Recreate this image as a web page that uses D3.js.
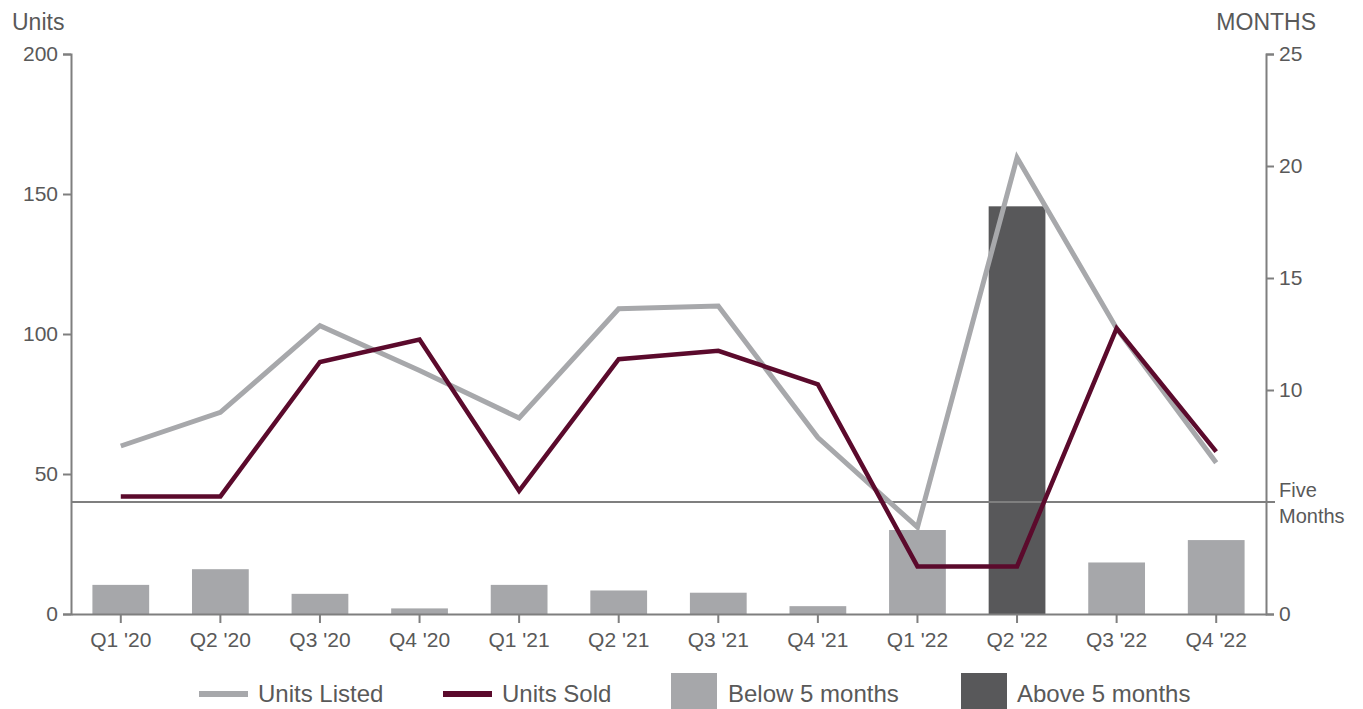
<!DOCTYPE html>
<html>
<head>
<meta charset="utf-8">
<script src="https://cdn.jsdelivr.net/npm/d3@7"></script>
<style>
  body { margin: 0; background: #fff; }
  svg { display: block; font-family: "Liberation Sans", Arial, sans-serif; }
  .axis path, .axis line { stroke: #7f7f7f; stroke-width: 2px; }
  .axis text { fill: #595959; font-size: 21px; font-family: "Liberation Sans", Arial, sans-serif; }
</style>
</head>
<body>
<div id="chart"></div>
<script>
// data
var quarters = ["Q1 '20", "Q2 '20", "Q3 '20", "Q4 '20", "Q1 '21", "Q2 '21",
                "Q3 '21", "Q4 '21", "Q1 '22", "Q2 '22", "Q3 '22", "Q4 '22"];
var unitsListed = [60, 72, 103, 87, 70, 109, 110, 63, 31, 163, 102, 54];
var unitsSold = [42, 42, 90, 98, 44, 91, 94, 82, 17, 17, 102, 58];
var monthsSupply = [1.3, 2.0, 0.9, 0.25, 1.3, 1.05, 0.95, 0.35, 3.75, 18.2, 2.3, 3.3];
var unitTicks = [0, 50, 100, 150, 200];
var monthTicks = [0, 10, 15, 20, 25]; // 5 is labelled "Five Months"
var threshold = 5;

var svgWidth = 1363, svgHeight = 709;
var margin = { top: 54, right: 97, bottom: 95, left: 71 };
var width = svgWidth - margin.left - margin.right;
var height = svgHeight - margin.top - margin.bottom;

var colListed = "#a7a8ab";
var colSold = "#5b0a2c";
var colBelow = "#a6a7aa";
var colAbove = "#58585a";

var svg = d3.select("#chart").append("svg")
  .attr("width", svgWidth)
  .attr("height", svgHeight);

var chartGroup = svg.append("g")
  .attr("transform", `translate(${margin.left}, ${margin.top})`);

var xScale = d3.scaleBand()
  .domain(quarters)
  .range([0, width])
  .paddingInner(0.43)
  .paddingOuter(0.215);

var yLeft = d3.scaleLinear().domain([0, 200]).range([height, 0]);
var yRight = d3.scaleLinear().domain([0, 25]).range([height, 0]);

// bars (months of supply, right axis)
chartGroup.selectAll("rect.bar")
  .data(monthsSupply)
  .enter()
  .append("rect")
  .attr("class", "bar")
  .attr("x", (d, i) => xScale(quarters[i]))
  .attr("width", xScale.bandwidth())
  .attr("y", d => yRight(d))
  .attr("height", d => height - yRight(d))
  .attr("fill", d => d > threshold ? colAbove : colBelow);

// axes
chartGroup.append("g")
  .attr("class", "axis")
  .call(d3.axisLeft(yLeft).tickValues(unitTicks).tickSize(8).tickSizeOuter(8).tickPadding(5));

chartGroup.append("g")
  .attr("class", "axis")
  .attr("transform", `translate(${width}, 0)`)
  .call(d3.axisRight(yRight).tickValues(monthTicks).tickSize(8).tickSizeOuter(8).tickPadding(5));

chartGroup.append("g")
  .attr("class", "axis")
  .attr("transform", `translate(0, ${height})`)
  .call(d3.axisBottom(xScale).tickSize(9).tickSizeOuter(0).tickPadding(9));

// five months line
chartGroup.append("line")
  .attr("x1", 0)
  .attr("x2", width + 9)
  .attr("y1", yRight(threshold))
  .attr("y2", yRight(threshold))
  .attr("stroke", "#7f7f7f")
  .attr("stroke-width", 2);

chartGroup.append("text")
  .attr("x", width + 13)
  .attr("y", yRight(threshold) - 5)
  .attr("fill", "#595959")
  .attr("font-size", "20px")
  .text("Five");
chartGroup.append("text")
  .attr("x", width + 13)
  .attr("y", yRight(threshold) + 21)
  .attr("fill", "#595959")
  .attr("font-size", "20px")
  .text("Months");

// lines
var cx = (d, i) => xScale(quarters[i]) + xScale.bandwidth() / 2;
var lineUnits = d3.line().x(cx).y(d => yLeft(d));

chartGroup.append("path")
  .datum(unitsListed)
  .attr("d", lineUnits)
  .attr("fill", "none")
  .attr("stroke", colListed)
  .attr("stroke-width", 5);

chartGroup.append("path")
  .datum(unitsSold)
  .attr("d", lineUnits)
  .attr("fill", "none")
  .attr("stroke", colSold)
  .attr("stroke-width", 4.5);

// axis titles
svg.append("text")
  .attr("x", 12)
  .attr("y", 30)
  .attr("fill", "#595959")
  .attr("font-size", "23px")
  .text("Units");

svg.append("text")
  .attr("x", 1316)
  .attr("y", 30)
  .attr("text-anchor", "end")
  .attr("fill", "#595959")
  .attr("font-size", "23px")
  .text("MONTHS");

// legend
var legend = svg.append("g");
var legendY = 694;

legend.append("line")
  .attr("x1", 199).attr("x2", 248)
  .attr("y1", legendY).attr("y2", legendY)
  .attr("stroke", colListed).attr("stroke-width", 6);
legend.append("text")
  .attr("x", 258).attr("y", legendY + 8)
  .attr("fill", "#595959").attr("font-size", "24px")
  .text("Units Listed");

legend.append("line")
  .attr("x1", 443).attr("x2", 492)
  .attr("y1", legendY).attr("y2", legendY)
  .attr("stroke", colSold).attr("stroke-width", 6);
legend.append("text")
  .attr("x", 502).attr("y", legendY + 8)
  .attr("fill", "#595959").attr("font-size", "24px")
  .text("Units Sold");

legend.append("rect")
  .attr("x", 671).attr("y", 673)
  .attr("width", 46).attr("height", 46)
  .attr("fill", colBelow);
legend.append("text")
  .attr("x", 728).attr("y", legendY + 8)
  .attr("fill", "#595959").attr("font-size", "24px")
  .text("Below 5 months");

legend.append("rect")
  .attr("x", 961).attr("y", 673)
  .attr("width", 46).attr("height", 46)
  .attr("fill", colAbove);
legend.append("text")
  .attr("x", 1017).attr("y", legendY + 8)
  .attr("fill", "#595959").attr("font-size", "24px")
  .text("Above 5 months");
</script>
</body>
</html>
